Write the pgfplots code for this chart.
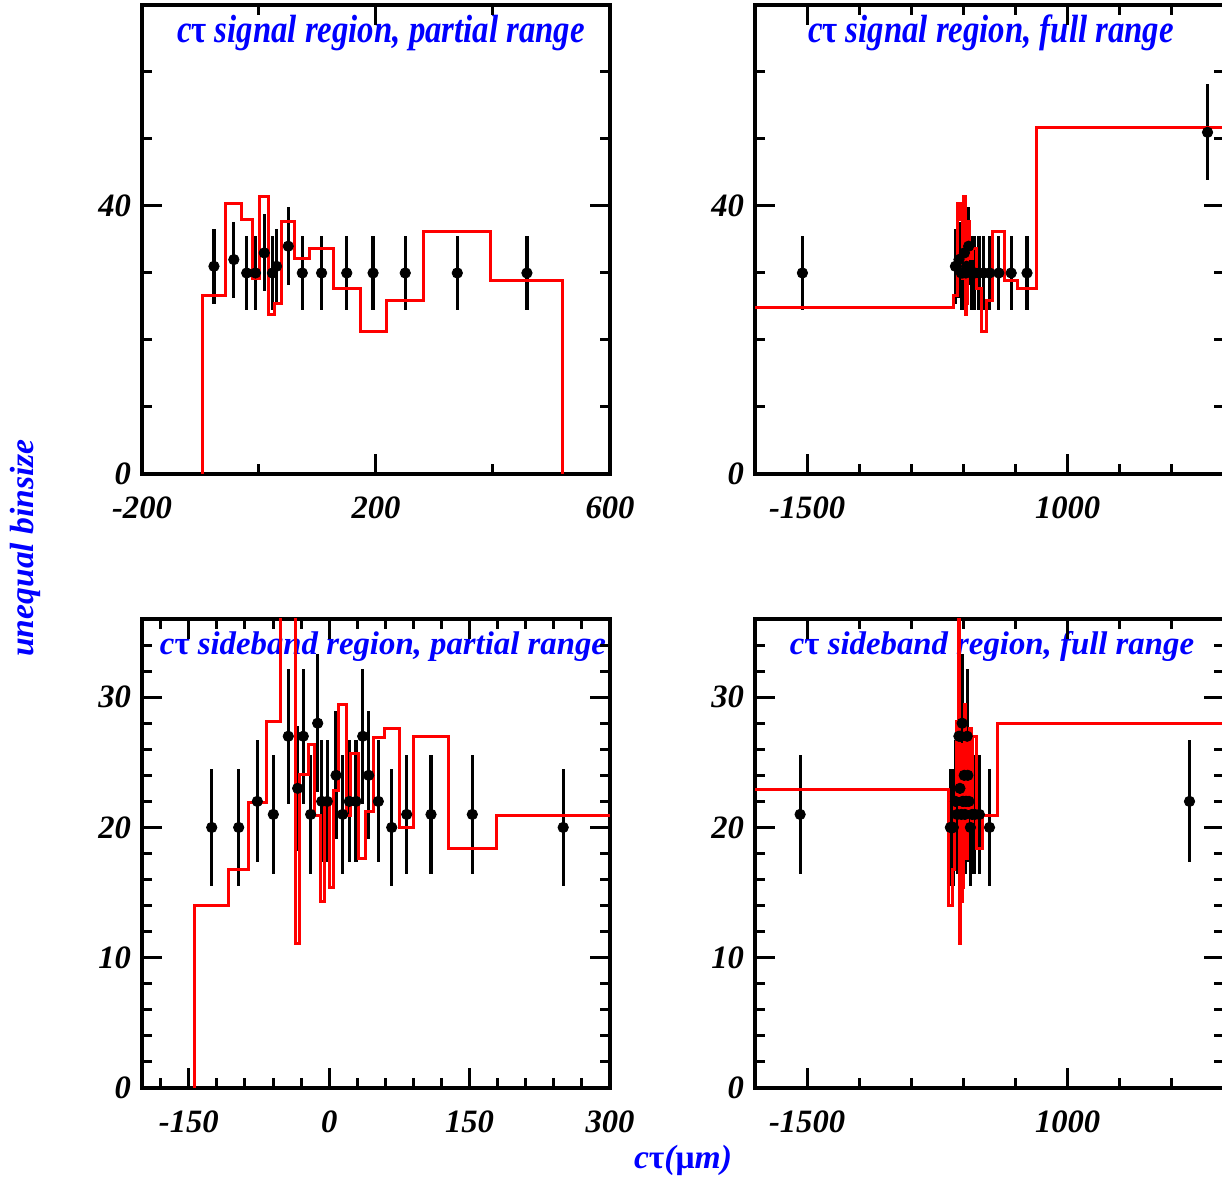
\documentclass[border=0pt]{standalone}
\usepackage{fontspec}
\setmainfont{Liberation Serif}
\usepackage{graphicx}
\usepackage{pgfplots}
\usepackage{pgfplotstable}
\pgfplotsset{compat=1.18}

\newcommand\tickfont{\fontsize{16.3}{16}\selectfont\bfseries\itshape}
\newcommand\titlefont{\fontsize{16.4}{16}\selectfont\bfseries\itshape}
\newcommand\labelfont{\fontsize{16.8}{16}\selectfont\bfseries\itshape}

% signal region points (partial range)
\pgfplotstableread{
x y e
-77 31 5.57
-43 32 5.66
-21 30 5.48
-6 30 5.48
9 33 5.74
23 30 5.48
30 31 5.57
50 34 5.83
74 30 5.48
107 30 5.48
150 30 5.48
195 30 5.48
250 30 5.48
339 30 5.48
458 30 5.48
}\tlpts

% signal region points (full range)
\pgfplotstableread{
x y e
-1545 30 5.48
-77 31 5.57
-43 32 5.66
-21 30 5.48
-6 30 5.48
9 33 5.74
23 30 5.48
30 31 5.57
50 34 5.83
74 30 5.48
107 30 5.48
150 30 5.48
195 30 5.48
250 30 5.48
339 30 5.48
458 30 5.48
610 30 5.48
2342 51 7.14
}\trpts

% sideband points (partial range)
\pgfplotstableread{
x y e
-125.5 20 4.47
-96.7 20 4.47
-76.8 22 4.69
-59.7 21 4.58
-43.7 27 5.20
-33.7 23 4.80
-27.7 27 5.20
-19.8 21 4.58
-12.3 28 5.29
-8 22 4.69
-2 22 4.69
7.3 24 4.90
14.4 21 4.58
21.5 22 4.69
28.6 22 4.69
35.8 27 5.20
42.2 24 4.90
52.5 22 4.69
66.8 20 4.47
82.8 21 4.58
108.8 21 4.58
152.9 21 4.58
250 20 4.47
}\blpts

% sideband points (full range)
\pgfplotstableread{
x y e
-1567 21 4.58
-125.5 20 4.47
-96.7 20 4.47
-76.8 22 4.69
-59.7 21 4.58
-43.7 27 5.20
-33.7 23 4.80
-27.7 27 5.20
-19.8 21 4.58
-12.3 28 5.29
-8 22 4.69
-2 22 4.69
7.3 24 4.90
14.4 21 4.58
21.5 22 4.69
28.6 22 4.69
35.8 27 5.20
42.2 24 4.90
52.5 22 4.69
66.8 20 4.47
82.8 21 4.58
108.8 21 4.58
152.9 21 4.58
250 20 4.47
2169 22 4.69
}\brpts

\pgfplotsset{
  panel/.style={
    scale only axis, width=234pt, height=234.5pt,
    axis line style={black, line width=2pt},
    tick align=inside,
    major tick length=10pt, minor tick length=5pt,
    every tick/.style={black, line width=1.5pt},
    xticklabel style={font=\tickfont, yshift=-8pt},
    yticklabel style={font=\tickfont, xshift=-2pt},
    clip=true,
  },
  hist/.style={red, line width=1.5pt, const plot, mark=none},
  pts/.style={black, only marks, mark=*, mark size=2.6pt,
    error bars/.cd, y dir=both, y explicit, error mark=none,
    error bar style={line width=1.6pt, black}},
}

\begin{document}
\begin{tikzpicture}
% titles (drawn first, under the histograms)
\node[anchor=base, text=blue, font=\titlefont] at (190.5pt,567.5pt) {\scalebox{1}[1.2]{c{\upshape τ} signal region, partial range}};
\node[anchor=base, text=blue, font=\titlefont] at (495.5pt,567.5pt) {\scalebox{1}[1.2]{c{\upshape τ} signal region, full range}};
\node[anchor=base, text=blue, font=\titlefont] at (191.5pt,261.5pt) {c{\upshape τ} sideband region, partial range};
\node[anchor=base, text=blue, font=\titlefont] at (496pt,261.5pt) {c{\upshape τ} sideband region, full range};

% top left
\begin{axis}[panel, at={(71pt,352pt)}, anchor=south west,
  xmin=-200, xmax=600, ymin=0, ymax=70,
  xtick={-200,200,600}, xticklabels={-200,200,600},
  minor xtick={0,400},
  ytick={0,40}, yticklabels={0,40},
  minor ytick={10,20,30,50,60}]
\addplot[pts] table[x=x,y=y,y error=e] {\tlpts};
\addplot[hist] coordinates {(-96,0) (-96,26.6) (-57,40.3) (-30,38.0) (-11,29.2) (1,41.4) (17,23.8) (26,25.5) (39,37.7) (61.5,32.1) (87,33.7) (127,27.7) (173,21.2) (218,25.9) (281,36.2) (396,28.9) (519,0)};
\end{axis}

% top right
\begin{axis}[panel, at={(377.5pt,352pt)}, anchor=south west, width=234.5pt,
  xmin=-2000, xmax=2500, ymin=0, ymax=70,
  xtick={-1500,1000}, xticklabels={-1500,1000},
  minor xtick={-1000,-500,0,500,1500,2000},
  ytick={0,40}, yticklabels={0,40},
  minor ytick={10,20,30,50,60}]
\addplot[pts] table[x=x,y=y,y error=e] {\trpts};
\addplot[hist] coordinates {(-2000,24.8) (-96,26.6) (-57,40.3) (-30,38.0) (-11,29.2) (1,41.4) (17,23.8) (26,25.5) (39,37.7) (61.5,32.1) (87,33.7) (127,27.7) (173,21.2) (218,25.9) (281,36.2) (396,28.9) (519,27.7) (700,51.7) (2500,51.7)};
\end{axis}

% bottom left
\begin{axis}[panel, at={(71pt,45pt)}, anchor=south west,
  xmin=-200, xmax=300, ymin=0, ymax=36,
  xtick={-150,0,150,300}, xticklabels={-150,0,150,300},
  minor xtick={-180,-120,-90,-60,-30,30,60,90,120,180,210,240,270},
  ytick={0,10,20,30}, yticklabels={0,10,20,30},
  minor ytick={2,4,6,8,12,14,16,18,22,24,26,28,32,34}]
\addplot[pts] table[x=x,y=y,y error=e] {\blpts};
\addplot[hist] coordinates {(-144,0) (-144,14.0) (-107.8,16.8) (-85.7,21.9) (-67.5,28.1) (-51.7,48) (-36,11.1) (-31.2,24.1) (-22.3,26.4) (-16.2,20.9) (-9.8,14.3) (-4.5,21.8) (0.1,15.4) (5.1,22.8) (10.1,29.4) (18.7,20.9) (23,25.7) (31.8,17.6) (38.6,21.2) (47.1,26.9) (58.9,27.6) (74.9,20.0) (90.6,27.0) (127.2,18.4) (179,20.9) (326,20.9)};
\end{axis}

% bottom right
\begin{axis}[panel, at={(377.5pt,45pt)}, anchor=south west, width=234.5pt,
  xmin=-2000, xmax=2500, ymin=0, ymax=36,
  xtick={-1500,1000}, xticklabels={-1500,1000},
  minor xtick={-1000,-500,0,500,1500,2000},
  ytick={0,10,20,30}, yticklabels={0,10,20,30},
  minor ytick={2,4,6,8,12,14,16,18,22,24,26,28,32,34}]
\addplot[pts] table[x=x,y=y,y error=e] {\brpts};
\addplot[hist] coordinates {(-2000,22.9) (-144,14.0) (-107.8,16.8) (-85.7,21.9) (-67.5,28.1) (-51.7,48) (-36,11.1) (-31.2,24.1) (-22.3,26.4) (-16.2,20.9) (-9.8,14.3) (-4.5,21.8) (0.1,15.4) (5.1,22.8) (10.1,29.4) (18.7,20.9) (23,25.7) (31.8,17.6) (38.6,21.2) (47.1,26.9) (58.9,27.6) (74.9,20.0) (90.6,27.0) (127.2,18.4) (179,20.9) (326,28.0) (2500,28.0)};
\end{axis}

% axis labels
\node[rotate=90, text=blue, font=\labelfont] at (12.5pt,315pt) {unequal binsize};
\node[text=blue, font=\labelfont] at (341.5pt,9pt) {c{\upshape τ}({\upshape μ}m)};

\pgfresetboundingbox
\path[use as bounding box] (0,0) rectangle (611pt,589pt);
\end{tikzpicture}
\end{document}
